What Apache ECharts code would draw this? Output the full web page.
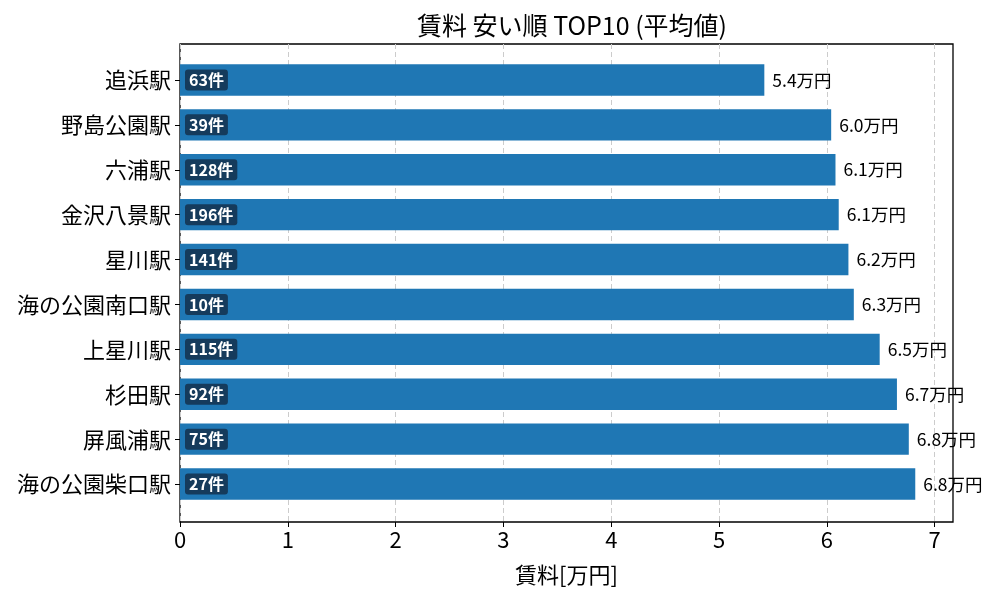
<!DOCTYPE html>
<html>
<head>
<meta charset="utf-8">
<script src="https://cdn.jsdelivr.net/npm/echarts@6/dist/echarts.min.js"></script>
<style>
  html, body { margin: 0; padding: 0; background: #fff; }
  #main { width: 1000px; height: 600px; }
</style>
</head>
<body>
<div id="main"></div>
<script>
// 駅名（上から順）
const stations = ['追浜駅', '野島公園駅', '六浦駅', '金沢八景駅', '星川駅', '海の公園南口駅', '上星川駅', '杉田駅', '屏風浦駅', '海の公園柴口駅']
// 平均賃料 [万円]
const rents = [5.42, 6.04, 6.08, 6.11, 6.20, 6.25, 6.49, 6.65, 6.76, 6.82]
// 件数
const counts = [63, 39, 128, 196, 141, 10, 115, 92, 75, 27]
const xTicks = [0, 1, 2, 3, 4, 5, 6, 7]

const FONT = '"Noto Sans CJK JP", "Noto Sans", sans-serif'
const xMax = 7.17

const chart = echarts.init(document.getElementById('main'), null, { renderer: 'canvas' })

const option = {
  animation: false,
  textStyle: { fontFamily: FONT },
  title: {
    text: '賃料 安い順 TOP10 (平均値)',
    left: 567, top: 8, textAlign: 'center',
    textStyle: { fontFamily: FONT, fontSize: 25, fontWeight: 'normal', color: '#000' }
  },
  grid: [
    // 枠と x 軸
    { left: 180, right: 47, top: 44, bottom: 78, show: true, borderColor: '#000', borderWidth: 1.3, backgroundColor: 'transparent' },
    // 棒グラフ本体（matplotlib の余白に合わせる）
    { left: 180, right: 47, top: 57.5, height: 449 }
  ],
  xAxis: [
    {
      gridIndex: 0, type: 'value', min: 0, max: xMax, interval: 1,
      name: '賃料[万円]', nameLocation: 'middle', nameGap: 42,
      nameTextStyle: { fontFamily: FONT, fontSize: 22, color: '#000' },
      axisLine: { show: false },
      axisTick: { show: true, length: 5, lineStyle: { color: '#000' },
        customValues: xTicks },
      axisLabel: { fontFamily: FONT, fontSize: 22, color: '#000', margin: 7,
        customValues: xTicks },
      splitLine: { show: true, lineStyle: { type: [5, 3], color: '#cccccc', width: 1 } }
    },
    {
      gridIndex: 1, type: 'value', min: 0, max: xMax,
      show: false, splitLine: { show: false }
    }
  ],
  yAxis: [
    { gridIndex: 0, type: 'value', min: 0, max: 1, show: false, splitLine: { show: false } },
    {
      gridIndex: 1, type: 'category', data: stations, inverse: true,
      axisLine: { show: false },
      axisTick: { show: true, alignWithLabel: true, length: 5, lineStyle: { color: '#000' } },
      axisLabel: { fontFamily: FONT, fontSize: 22, color: '#000', margin: 9 }
    }
  ],
  series: [
    {
      type: 'bar', xAxisIndex: 1, yAxisIndex: 1,
      data: rents, barWidth: '70%',
      itemStyle: { color: '#1f77b4' },
      z: 3,
      label: {
        show: true, position: 'insideLeft', distance: 5,
        formatter: p => counts[p.dataIndex] + '件',
        fontFamily: FONT, fontSize: 16, fontWeight: 'bold', color: '#fff',
        backgroundColor: '#153b5c', borderRadius: 3, padding: [3, 4, 2, 4]
      }
    },
    {
      type: 'bar', xAxisIndex: 1, yAxisIndex: 1,
      data: rents, barWidth: '70%', barGap: '-100%',
      itemStyle: { color: 'transparent' },
      z: 4, silent: true,
      label: {
        show: true, position: 'right', distance: 8,
        formatter: p => p.value.toFixed(1) + '万円',
        fontFamily: FONT, fontSize: 17.5, color: '#000'
      }
    }
  ]
}

chart.setOption(option)
</script>
</body>
</html>
